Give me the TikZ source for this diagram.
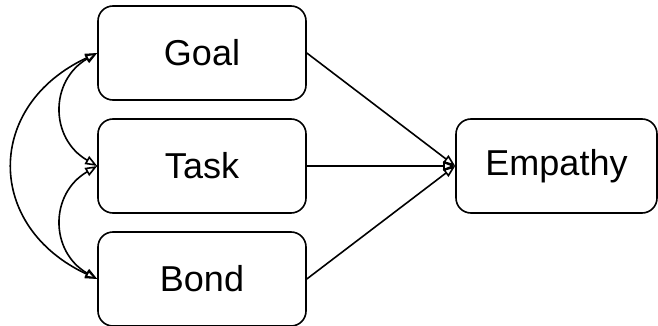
\documentclass[tikz,border=0pt]{standalone}
\usepackage{fontspec}
\setmainfont{Liberation Sans}
\usetikzlibrary{arrows.meta}

\begin{document}
\begin{tikzpicture}[x=0.5pt,y=-0.5pt,
  var/.style={draw,line width=0.8pt,rounded corners=7.5pt,minimum width=104pt,minimum height=47pt,inner sep=0pt,font=\fontsize{18}{22}\selectfont},
  path/.style={line width=0.8pt,-{Triangle[open,length=6pt,width=4.5pt]}},
  cov/.style={line width=0.8pt,{Triangle[open,length=6pt,width=4.5pt]}-{Triangle[open,length=6pt,width=4.5pt]}}]
\useasboundingbox (0,0) rectangle (658,326);

% Alliance components
\node[var] (goal) at (202,53) {Goal};
\node[var] (task) at (202,166) {Task};
\node[var] (bond) at (202,279) {Bond};

% Outcome
\node[var,minimum width=100.5pt] (empathy) at (556.5,166) {Empathy};

% Covariances
\draw[cov] (goal.west) to[out=-150,in=150,distance=27.5pt] (task.west);
\draw[cov] (task.west) to[out=-150,in=150,distance=27.5pt] (bond.west);
\draw[cov] (goal.west) to[out=-155,in=155,distance=62pt] (bond.west);

% Paths to empathy
\draw[path] (goal.east) -- (empathy.west);
\draw[path] (task.east) -- (empathy.west);
\draw[path] (bond.east) -- (empathy.west);
\end{tikzpicture}
\end{document}
